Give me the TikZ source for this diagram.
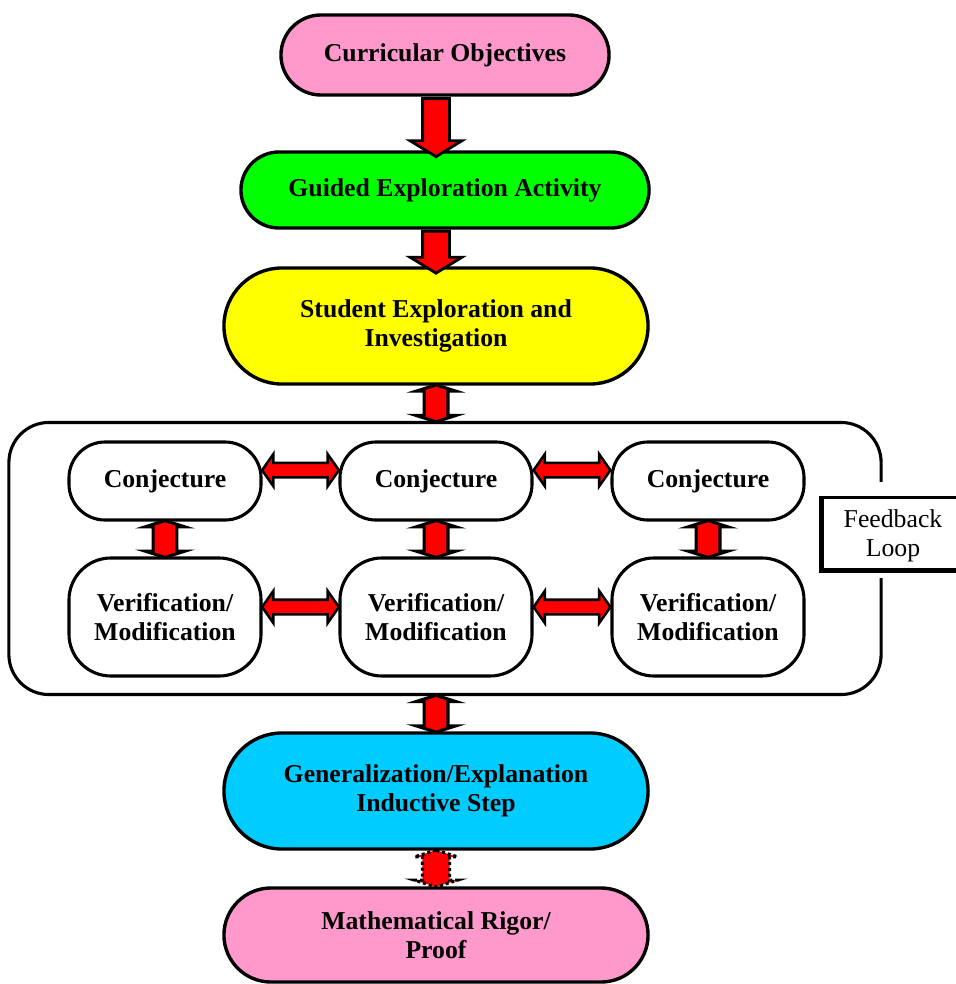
\documentclass[tikz,border=0pt]{standalone}
\usepackage{fontspec}
\setmainfont{Liberation Serif}
\usetikzlibrary{shapes.misc,shapes.arrows,calc,positioning}
\definecolor{boxpink}{HTML}{FF99CC}
\definecolor{boxgreen}{HTML}{00FF00}
\definecolor{boxyellow}{HTML}{FFFF00}
\definecolor{boxcyan}{HTML}{00CCFF}
\newcommand{\flowfont}{\fontsize{18.3pt}{20.6pt}\selectfont}

\begin{document}
\begin{tikzpicture}[x=0.025cm,y=-0.025cm,
    main box/.style={rounded rectangle,draw,line width=2.4pt,font=\flowfont\bfseries,align=center,inner sep=0pt},
    inner box/.style={rectangle,rounded corners=0.9cm,draw,line width=2.2pt,fill=white,font=\flowfont\bfseries,align=center,minimum width=4.8cm},
    down arrow/.style={single arrow,draw,fill=red,line width=2pt,rotate=-90,inner xsep=0pt,inner ysep=0.3cm,single arrow head extend=0.31cm,single arrow tip angle=117,outer sep=0pt},
    both arrow/.style={double arrow,draw,fill=red,line width=2.2pt,rotate=90,inner xsep=0pt,inner ysep=0.26cm,double arrow head extend=0.2cm,double arrow tip angle=145,outer sep=0pt},
    side arrow/.style={double arrow,draw,fill=red,line width=1.8pt,inner xsep=0pt,inner ysep=0.15cm,double arrow head extend=0.22cm,double arrow tip angle=110,outer sep=0pt}]
  \useasboundingbox (0,0) rectangle (955,984);

  % main flow
  \node[main box,fill=boxpink,minimum width=8.2cm,minimum height=2cm] (cur) at (445,55) {Curricular Objectives};
  \node[main box,fill=boxgreen,minimum width=10.2cm,minimum height=1.9cm] (gui) at (445,190) {Guided Exploration Activity};
  \node[main box,fill=boxyellow,minimum width=10.6cm,minimum height=2.9cm] (stu) at (436,326) {Student Exploration and\\Investigation};

  % feedback loop
  \node[draw,rounded corners=1cm,line width=2.2pt,minimum width=21.8cm,minimum height=6.8cm] (loop) at (445,558.5) {};
  \fill[white] (860,482) rectangle (905,578);
  \node[draw,line width=1.8pt,fill=white,font=\flowfont,align=center,minimum width=3.5cm,minimum height=1.8cm,text depth=0pt,yshift=-0.06cm] (fb) at (893,531) {Feedback\\Loop};
  \draw[line width=3.6pt] (fb.north west) -- (fb.south west) -- (fb.south east);

  \node[inner box,minimum height=1.95cm] (c1) at (165,481) {Conjecture};
  \node[inner box,minimum height=1.95cm] (c2) at (436,481) {Conjecture};
  \node[inner box,minimum height=1.95cm] (c3) at (708,481) {Conjecture};
  \node[inner box,rounded corners=1.05cm,minimum height=2.95cm] (v1) at (165,617) {Verification/\\Modification};
  \node[inner box,rounded corners=1.05cm,minimum height=2.95cm] (v2) at (436,617) {Verification/\\Modification};
  \node[inner box,rounded corners=1.05cm,minimum height=2.95cm] (v3) at (708,617) {Verification/\\Modification};

  \node[main box,fill=boxcyan,minimum width=10.6cm,minimum height=2.9cm] (gen) at (436,791) {Generalization/Explanation\\Inductive Step};
  \node[main box,fill=boxpink,minimum width=10.6cm,minimum height=2.35cm] (mat) at (436,935) {Mathematical Rigor/\\Proof};

  % arrows
  \node[down arrow,minimum height=1.45cm] (a1) at ($(cur.south -| stu)!.5!(gui.north -| stu)$) {};
  \node[down arrow,minimum height=1.05cm] (a2) at ($(gui.south -| stu)!.5!(stu.north)$) {};
  \node[both arrow,minimum height=0.92cm] (a3) at ($(stu.south)!.5!(loop.north -| stu)$) {};
  \node[both arrow,minimum height=0.92cm] (b1) at ($(c1.south)!.5!(v1.north)$) {};
  \node[both arrow,minimum height=0.92cm] (b2) at ($(c2.south)!.5!(v2.north)$) {};
  \node[both arrow,minimum height=0.92cm] (b3) at ($(c3.south)!.5!(v3.north)$) {};
  \node[side arrow,minimum height=1.92cm,yshift=0.27cm] (h1) at ($(c1.east)!.5!(c2.west)$) {};
  \node[side arrow,minimum height=1.92cm,yshift=0.27cm] (h2) at ($(c2.east)!.5!(c3.west)$) {};
  \node[side arrow,minimum height=1.92cm,yshift=0.25cm] (h3) at ($(v1.east)!.5!(v2.west)$) {};
  \node[side arrow,minimum height=1.92cm,yshift=0.25cm] (h4) at ($(v2.east)!.5!(v3.west)$) {};
  \node[both arrow,minimum height=0.92cm] (a4) at ($(loop.south -| gen)!.5!(gen.north)$) {};
  \node[both arrow,dotted,minimum height=0.92cm,inner ysep=0.3cm,double arrow head extend=0.2cm] (a5) at ($(gen.south)!.5!(mat.north)$) {};
\end{tikzpicture}
\end{document}
